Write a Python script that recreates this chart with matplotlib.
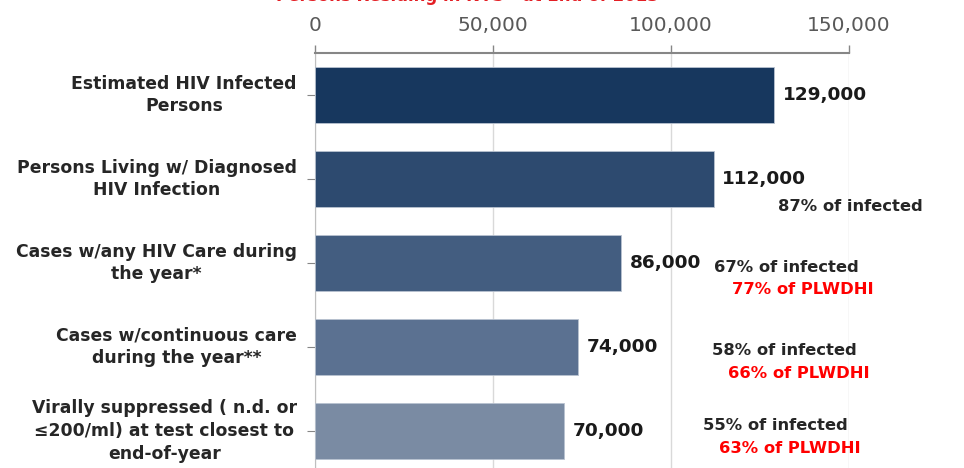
import matplotlib.pyplot as plt
import numpy as np

plt.rcParams['font.family'] = ['DejaVu Sans']

# data
categories = ["Estimated HIV Infected\nPersons",
              "Persons Living w/ Diagnosed\nHIV Infection",
              "Cases w/any HIV Care during\nthe year*",
              "Cases w/continuous care\nduring the year**",
              "Virally suppressed ( n.d. or\n\u2264200/ml) at test closest to\nend-of-year"]
values = [129000, 112000, 86000, 74000, 70000]
pct_infected = ["", "87% of infected", "67% of infected", "58% of infected", "55% of infected"]
pct_plwdhi = ["", "", "77% of PLWDHI", "66% of PLWDHI", "63% of PLWDHI"]
ticks = [0, 50000, 100000, 150000]

bar_colors = ["#17375E", "#2D4A6F", "#435D80", "#5B7191", "#7A8BA3"]
# where the percentage notes sit (x in data units, y offset from bar centre)
inf_x = [0, 130000, 112000, 111500, 109000]
inf_dy = [0, 0.33, 0.05, 0.04, -0.06]
plw_x = [0, 0, 117000, 116000, 113500]
plw_dy = [0, 0, 0.32, 0.32, 0.21]

fig = plt.figure(figsize=(9.64, 4.68), dpi=100)
ax = fig.add_axes([315/964, 1 - 557/468, 534/964, 504/468])

y = np.arange(len(values))
ax.barh(y, values, height=0.66, color=bar_colors, edgecolor="#B8C2D0", linewidth=0.6, zorder=3)

ax.set_xlim(0, 150000)
ax.set_ylim(5.5, -0.5)
ax.xaxis.tick_top()
ax.set_xticks(ticks)
ax.set_xticklabels([f"{t:,}" for t in ticks], fontsize=14.5, color="#595959")
ax.tick_params(axis="x", length=6, color="#868686", pad=7, width=1)
ax.set_yticks(y)
ax.set_yticklabels(categories, fontsize=12.4, fontweight="bold", color="#262626", linespacing=1.35)
for lbl in ax.get_yticklabels():
    lbl.set_multialignment("center")
    lbl.set_verticalalignment("center")
ax.tick_params(axis="y", length=6, color="#868686", pad=7)
ax.grid(axis="x", color="#D9D9D9", linewidth=1, zorder=0)
for s in ["right", "bottom"]:
    ax.spines[s].set_visible(False)
ax.spines["top"].set_color("#868686")
ax.spines["top"].set_linewidth(1.5)
ax.spines["left"].set_color("#BFBFBF")

for i, v in enumerate(values):
    ax.annotate(f"{v:,}", (v, i), xytext=(6, 0), textcoords="offset points",
                ha="left", va="center", fontsize=13.3, fontweight="bold", color="#1A1A1A")
    if pct_infected[i]:
        ax.text(inf_x[i], i + inf_dy[i], pct_infected[i], ha="left", va="center",
                fontsize=11.8, fontweight="bold", color="#262626", clip_on=False)
    if pct_plwdhi[i]:
        ax.text(plw_x[i], i + plw_dy[i], pct_plwdhi[i], ha="left", va="center",
                fontsize=11.8, fontweight="bold", color="#FF0000", clip_on=False)

fig.text(0.485, 1 - 1/468, "Persons Residing in NYS - at End of 2013", ha="center", va="baseline",
         fontsize=12, fontweight="bold", color="#E31E24")

fig.savefig("out.png", dpi=100)
